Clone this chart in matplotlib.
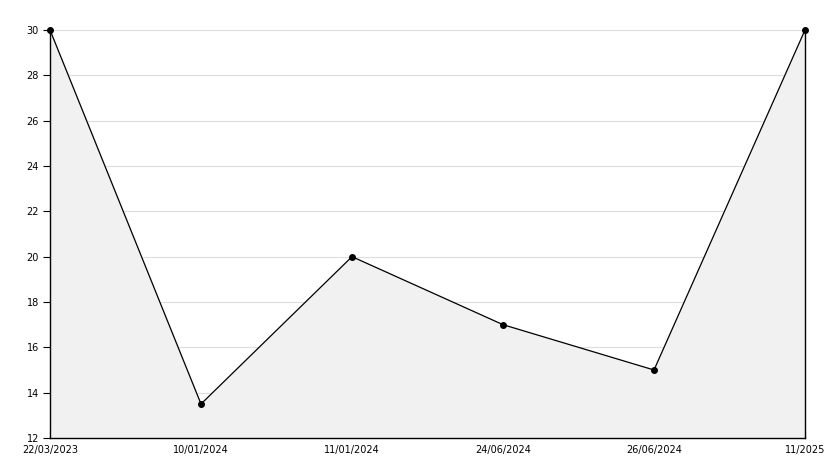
import matplotlib.pyplot as plt
from matplotlib.ticker import MultipleLocator

dates = ["22/03/2023", "10/01/2024", "11/01/2024", "24/06/2024", "26/06/2024", "11/2025"]
values = [30, 13.5, 20, 17, 15, 30]

fig = plt.figure(figsize=(8.34, 4.68), dpi=100)
ax = fig.add_axes([50 / 834, 1 - 438 / 468, 755 / 834, 408 / 468])

x = list(range(len(dates)))
ax.fill_between(x, values, 12, color="#f1f1f1", zorder=2)
ax.plot(x, values, color="black", linewidth=0.9, marker="o", markersize=4,
        zorder=5, clip_on=False)

ax.set_xlim(0, len(dates) - 1)
ax.set_ylim(12, 30)
ax.set_xticks(x)
ax.set_xticklabels(dates, fontsize=7)
ax.yaxis.set_major_locator(MultipleLocator(2))
ax.yaxis.set_minor_locator(MultipleLocator(1))
ax.tick_params(axis="y", which="major", direction="out", length=5, labelsize=7, pad=3)
ax.tick_params(axis="y", which="minor", direction="in", length=4)
ax.tick_params(axis="x", direction="in", length=5, pad=5)

ax.grid(axis="y", color="#dddddd", linewidth=0.8, zorder=1)
ax.set_axisbelow(True)
ax.spines["top"].set_visible(False)
for s in ["left", "bottom", "right"]:
    ax.spines[s].set_linewidth(1)
    ax.spines[s].set_zorder(4)

fig.savefig("out.png", dpi=100)
